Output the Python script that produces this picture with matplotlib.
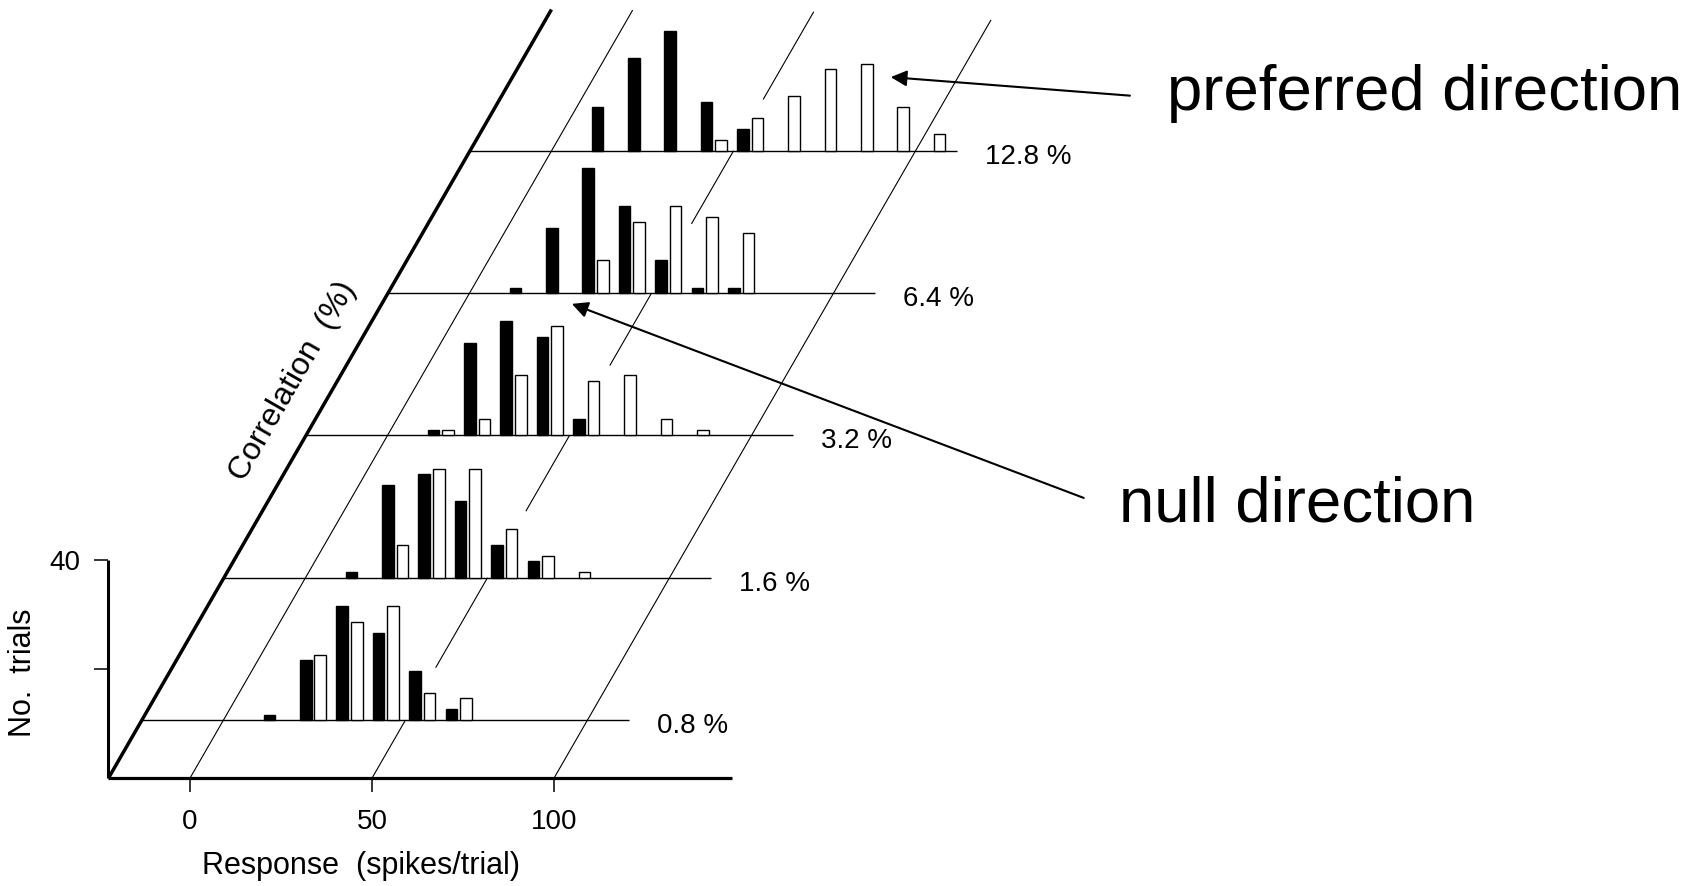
"""
Spike-count histograms for one MT neuron at five motion-correlation levels,
stacked along an oblique "Correlation" axis. Filled bars: null direction,
open bars: preferred direction (60 trials each).
"""

import matplotlib

matplotlib.use("Agg")
import matplotlib.pyplot as plt

plt.rcParams["font.family"] = ["Liberation Sans", "DejaVu Sans"]

# left edge of each 10 spikes/trial bin
bin_edges = [10, 20, 30, 40, 50, 60, 70, 80, 90, 100]
correlation_labels = ["0.8 %", "1.6 %", "3.2 %", "6.4 %", "12.8 %"]

# trials per bin, one row per correlation level (low to high)
null_counts = [
    [1, 11, 21, 16, 9, 2, 0, 0, 0, 0],
    [1, 17, 19, 14, 6, 3, 0, 0, 0, 0],
    [1, 17, 21, 18, 3, 0, 0, 0, 0, 0],
    [1, 12, 23, 16, 6, 1, 1, 0, 0, 0],
    [8, 17, 22, 9, 4, 0, 0, 0, 0, 0],
]
pref_counts = [
    [0, 12, 18, 21, 5, 4, 0, 0, 0, 0],
    [0, 6, 20, 20, 9, 4, 1, 0, 0, 0],
    [1, 3, 11, 20, 10, 11, 3, 1, 0, 0],
    [0, 0, 6, 13, 16, 14, 11, 0, 0, 0],
    [0, 0, 0, 2, 6, 10, 15, 16, 8, 3],
]

x_ticks = [0, 50, 100]
y_ticks = [20, 40]

# pseudo-3D layout (x in spikes/trial, y in trials)
SHEAR = 0.863          # horizontal drift per unit of depth
AXIS_X = -22.4         # where the three axes meet
FIRST_DEPTH, DEPTH_STEP = 10.65, 26.11
BASE_END = 111.5       # right end of each histogram baseline
FLOOR_END = 148.8
TOP = 141.0
BAR_W = 3.2
NULL_OFF, PREF_OFF = 1.0, 5.0
# height above each baseline where the middle guide line is hidden by the bars
LINE_GAP = [9.6, 12.2, 12.8, 12.7, 9.4]
LINE_TOP = {0: 140.9, 50: 140.6, 100: 139.1}

SMALL = 20
LABEL = 22

fig = plt.figure(figsize=(17.04, 8.86), dpi=100)
ax = fig.add_axes([0, 0, 1, 1])
ax.set_xlim(-52.2, 415.9)
ax.set_ylim(-19.8, 142.75)
ax.axis("off")

depths = [FIRST_DEPTH + DEPTH_STEP * k for k in range(len(correlation_labels))]
line_kw = dict(color="black", solid_capstyle="butt")

# floor, vertical count axis and oblique correlation axis
ax.plot([AXIS_X, FLOOR_END], [0, 0], lw=2.3, **line_kw)
ax.plot([AXIS_X, AXIS_X], [0, y_ticks[-1]], lw=2.2, **line_kw)
for t in y_ticks:
    ax.plot([AXIS_X - 4.1, AXIS_X], [t, t], lw=1.1, **line_kw)
ax.text(AXIS_X - 7.8, y_ticks[-1], str(y_ticks[-1]), ha="right", va="center_baseline",
        fontsize=SMALL)
ax.plot([AXIS_X, AXIS_X + SHEAR * TOP], [0, TOP], lw=2.5, **line_kw)

# guide lines running back along the correlation axis
for xv in x_ticks:
    ax.plot([xv, xv], [0, -2.6], lw=1.1, **line_kw)
    ax.text(xv, -9.3, str(xv), ha="center", va="baseline", fontsize=SMALL)
    if xv == 50:
        starts = [0] + [d + g for d, g in zip(depths, LINE_GAP)]
        ends = depths + [LINE_TOP[xv]]
    else:
        starts, ends = [0], [LINE_TOP[xv]]
    for d0, d1 in zip(starts, ends):
        ax.plot([xv + SHEAR * d0, xv + SHEAR * d1], [d0, d1], lw=0.8, **line_kw)

# one histogram per correlation level
for k, d in enumerate(depths):
    shift = SHEAR * d
    ax.plot([AXIS_X + shift, BASE_END + shift], [d, d], lw=1.0, **line_kw)
    for edge, n_null, n_pref in zip(bin_edges, null_counts[k], pref_counts[k]):
        if n_null:
            ax.bar(edge + NULL_OFF + shift, n_null, BAR_W, bottom=d, align="edge",
                   color="black", edgecolor="black", linewidth=1.0, zorder=3)
        if n_pref:
            ax.bar(edge + PREF_OFF + shift, n_pref, BAR_W, bottom=d, align="edge",
                   color="white", edgecolor="black", linewidth=1.0, zorder=3)
    ax.text(119 + shift, d - 2.4, correlation_labels[k], ha="left", va="baseline",
            fontsize=SMALL)

ax.text(28.4, 72.8, "Correlation  (%)", rotation=60.1, rotation_mode="anchor",
        ha="center", va="center", fontsize=23)
ax.text(-45.9, 19.3, "No.  trials", rotation=90, ha="center", va="center",
        fontsize=LABEL)
ax.text(3.4, -17.6, "Response  (spikes/trial)", ha="left", va="baseline",
        fontsize=LABEL)

# direction call-outs
arrow_kw = dict(arrowstyle="-|>", mutation_scale=24, lw=1.5, color="black",
                shrinkA=0, shrinkB=0)
ax.annotate("", xy=(192.5, 128.6), xytext=(258.2, 125.2), arrowprops=arrow_kw)
ax.annotate("", xy=(104.9, 87.0), xytext=(245.5, 51.4), arrowprops=arrow_kw)
ax.text(268.3, 122.6, "preferred direction", ha="left", va="baseline", fontsize=45.7)
ax.text(255.3, 47.0, "null direction", ha="left", va="baseline", fontsize=45.7)

fig.savefig("out.png", dpi=100)
